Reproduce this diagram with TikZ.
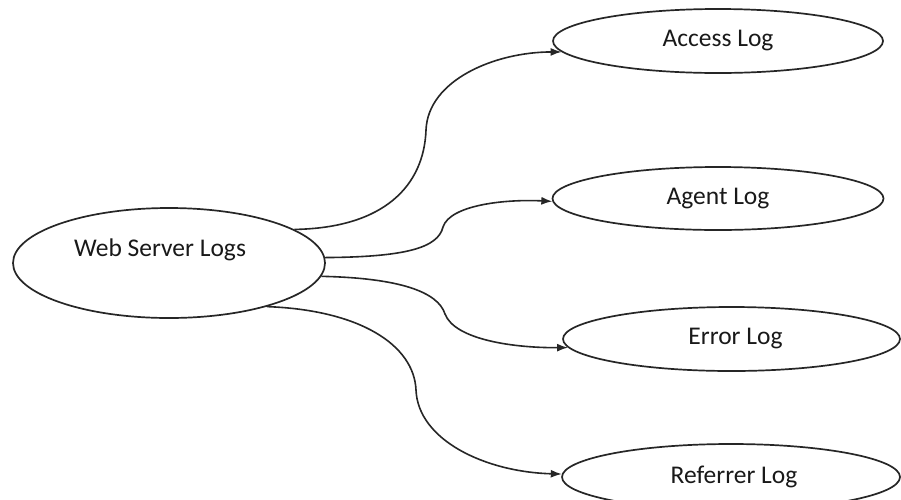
\documentclass[tikz,border=0pt]{standalone}
\usepackage{fontspec}
\setmainfont{Carlito}
\usetikzlibrary{shapes.geometric,arrows.meta}
\begin{document}
\begin{tikzpicture}[x=1pt,y=-1pt,
  labelfont/.style={font=\fontsize{25.5}{28}\selectfont, text=black!90},
  logbox/.style={draw=black!85, ellipse, line width=1.7pt, inner sep=0pt, labelfont},
  link/.style={draw=black!85, line width=1.6pt, -{Latex[length=11pt,width=8pt]}}]
  \useasboundingbox (0,0) rectangle (901,499);
  \clip (0,0) rectangle (901,499);
  \fill[white] (0,0) rectangle (901,499);

  % source log collection
  \node[logbox, minimum width=312pt, minimum height=110pt,
        label={[labelfont, shift={(-9,-13)}]center:Web Server Logs}]
        (wsl) at (169,263) {};

  % individual log types
  \node[logbox, minimum width=330pt, minimum height=64pt] (acc) at (718,41) {Access Log};
  \node[logbox, minimum width=331pt, minimum height=63pt] (agt) at (718,198.5) {Agent Log};
  \node[logbox, minimum width=337pt, minimum height=64pt] (err) at (731.5,339) {\hspace*{8pt}Error Log};
  \node[logbox, minimum width=338pt, minimum height=66pt] (ref) at (731,477) {\raisebox{-4pt}{\hspace*{6pt}Referrer Log}};

  % connectors: two arcs each, meeting at a steep turn half way
  \draw[link] (wsl.15) .. controls (385,228) and (424,185) .. (426,130)
                       .. controls (428,80) and (495,52) .. (acc.184);
  \draw[link] (wsl.2)  .. controls (405,257) and (438,248) .. (443,227)
                       .. controls (450,205) and (505,199) .. (agt.181);
  \draw[link] (wsl.-5) .. controls (400,278) and (438,292) .. (445,314)
                       .. controls (455,340) and (515,348) .. (err.183);
  \draw[link] (wsl.-24) .. controls (360,310) and (414,345) .. (416,390)
                        .. controls (418,440) and (485,472) .. (ref.179);
\end{tikzpicture}
\end{document}
